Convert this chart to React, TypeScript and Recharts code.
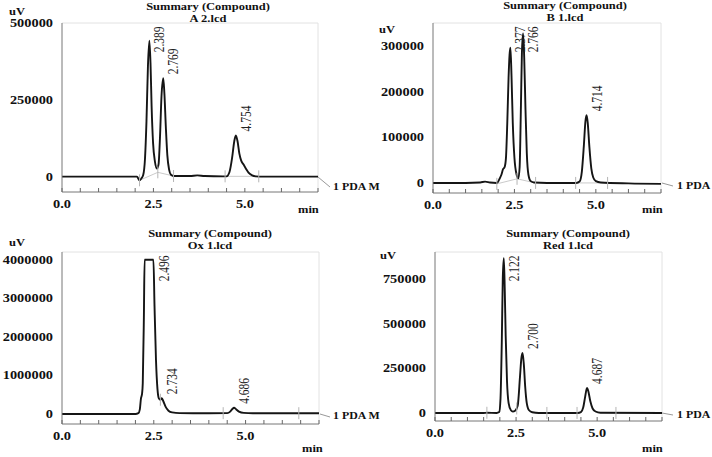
import React from 'react';
import { LineChart, Line, XAxis, YAxis, ReferenceDot, ReferenceLine } from 'recharts';

type Reading = [number, number];
type Gap = [number, number | null];

const SERIF = "'Liberation Serif', 'Times New Roman', serif";
// the scan is a little wider than tall, so all text gets stretched sideways
const STRETCH = 1.25;

const timeTicks = [0, 0.5, 1, 1.5, 2, 2.5, 3, 3.5, 4, 4.5, 5, 5.5, 6, 6.5, 7];
const labelledTimes = [0, 2.5, 5];

// ---- A 2.lcd
const traceA: Reading[] = [
  [0, 0], [1, 0], [2, 0], [2.05, 0], [2.12, -12000], [2.17, -6000], [2.22, 5000],
  [2.27, 60000], [2.31, 180000], [2.35, 360000], [2.389, 442000], [2.42, 370000],
  [2.45, 230000], [2.49, 110000], [2.54, 50000], [2.6, 26000], [2.64, 40000],
  [2.68, 130000], [2.72, 260000], [2.769, 320000], [2.8, 270000], [2.84, 160000],
  [2.88, 70000], [2.93, 22000], [2.98, 6000], [3.05, 2000], [3.5, 2000], [3.7, 4000],
  [3.9, 2000], [4.4, 1000], [4.5, 1000], [4.58, 15000], [4.65, 60000], [4.71, 115000],
  [4.754, 134000], [4.8, 115000], [4.85, 75000], [4.9, 52000], [4.96, 40000],
  [5.03, 26000], [5.1, 13000], [5.2, 4000], [5.3, 1000], [5.5, 0], [6.5, 0], [7, 0],
];
const peaksA: Reading[] = [[2.389, 442000], [2.769, 320000], [4.754, 134000]];
const cutsA: Reading[] = [[2.12, -12000], [2.62, 14000], [3.05, 2000], [4.46, 1000], [5.38, 1000]];
const integrationA: Gap[] = [[2.12, -12000], [2.62, 14000], [3.05, 2000], [3.3, null], [4.46, 1000], [5.38, 1000]];
const yTicksA = [0, 250000, 500000];

// ---- B 1.lcd
const traceB: Reading[] = [
  [0, 0], [1, 0], [1.45, 1000], [1.6, 3000], [1.75, 1000], [1.95, 0], [2, 3000],
  [2.05, 10000], [2.1, 18000], [2.15, 30000], [2.2, 35000], [2.24, 55000], [2.28, 130000],
  [2.32, 230000], [2.35, 280000], [2.377, 296000], [2.41, 235000], [2.45, 130000],
  [2.5, 55000], [2.56, 20000], [2.62, 10000], [2.66, 35000], [2.7, 170000], [2.73, 285000],
  [2.766, 327000], [2.8, 275000], [2.84, 160000], [2.88, 65000], [2.93, 18000], [3, 4000],
  [3.1, 1000], [3.5, 0], [4.4, 0], [4.5, 3000], [4.57, 25000], [4.63, 80000], [4.68, 135000],
  [4.714, 148000], [4.75, 132000], [4.8, 80000], [4.86, 32000], [4.92, 12000], [5, 4000],
  [5.15, 1000], [6, -1000], [7, -2000],
];
const peaksB: Reading[] = [[2.377, 296000], [2.766, 327000], [4.714, 148000]];
const cutsB: Reading[] = [[1.96, -2000], [2.58, 9000], [3.15, 0], [4.38, 0], [5.36, 0]];
const integrationB: Gap[] = [[1.96, -2000], [2.58, 9000], [3.15, 0], [3.4, null], [4.38, 0], [5.36, 0]];
const yTicksB = [0, 100000, 200000, 300000];

// ---- Ox 1.lcd
const traceOx: Reading[] = [
  [0, 0], [1, 0], [2, 0], [2.08, 20000], [2.12, 120000], [2.15, 400000], [2.18, 520000],
  [2.2, 800000], [2.23, 2500000], [2.25, 4000000], [2.49, 4000000], [2.52, 2800000],
  [2.56, 1400000], [2.6, 650000], [2.64, 400000], [2.68, 370000], [2.72, 410000],
  [2.76, 330000], [2.82, 190000], [2.9, 85000], [3, 40000], [3.2, 22000], [4, 20000],
  [4.5, 22000], [4.58, 60000], [4.64, 130000], [4.686, 160000], [4.74, 125000],
  [4.82, 60000], [4.95, 28000], [5.2, 20000], [7, 20000],
];
const peaksOx: Reading[] = [[2.496, 4000000], [2.734, 410000], [4.686, 160000]];
const cutsOx: Reading[] = [[2.68, 370000], [4.39, 21000], [6.45, 20000]];
const integrationOx: Gap[] = [];
const yTicksOx = [0, 1000000, 2000000, 3000000, 4000000];

// ---- Red 1.lcd
const traceRed: Reading[] = [
  [0, 0], [1.5, 0], [1.6, 1000], [1.9, 0], [1.98, 5000], [2.02, 80000], [2.06, 400000],
  [2.09, 750000], [2.122, 865000], [2.15, 700000], [2.18, 430000], [2.22, 180000],
  [2.27, 55000], [2.34, 15000], [2.4, 8000], [2.47, 12000], [2.55, 40000], [2.62, 200000],
  [2.66, 300000], [2.7, 335000], [2.74, 270000], [2.78, 150000], [2.83, 55000],
  [2.9, 15000], [3, 4000], [3.2, 0], [4.4, 0], [4.5, 5000], [4.57, 30000], [4.63, 90000],
  [4.687, 140000], [4.73, 120000], [4.79, 65000], [4.86, 25000], [4.95, 8000], [5.1, 1000],
  [7, 0],
];
const peaksRed: Reading[] = [[2.122, 865000], [2.7, 335000], [4.687, 140000]];
const cutsRed: Reading[] = [[1.6, 1000], [2.52, 25000], [3.45, 0], [4.38, 0], [5.58, 0]];
const integrationRed: Gap[] = [];
const yTicksRed = [0, 250000, 500000, 750000];

type PanelSpec = {
  left: number;
  top: number;
  width: number;
  height: number;
  yAxisWidth: number;
  marginTop: number;
  marginRight: number;
  xAxisHeight: number;
  yDomain: [number, number];
  yTicks: number[];
  trace: Reading[];
  peaks: Reading[];
  cuts: Reading[];
  integration: Gap[];
};

const panels: PanelSpec[] = [
  {
    left: 0, top: 0, width: 356, height: 222, yAxisWidth: 62, marginTop: 23, marginRight: 38,
    xAxisHeight: 30, yDomain: [-50000, 500000], yTicks: yTicksA,
    trace: traceA, peaks: peaksA, cuts: cutsA, integration: integrationA,
  },
  {
    left: 360, top: 0, width: 352, height: 222, yAxisWidth: 73, marginTop: 23, marginRight: 51,
    xAxisHeight: 29, yDomain: [-22000, 350000], yTicks: yTicksB,
    trace: traceB, peaks: peaksB, cuts: cutsB, integration: integrationB,
  },
  {
    left: 0, top: 228, width: 356, height: 229, yAxisWidth: 62, marginTop: 24, marginRight: 37,
    xAxisHeight: 33, yDomain: [-260000, 4200000], yTicks: yTicksOx,
    trace: traceOx, peaks: peaksOx, cuts: cutsOx, integration: integrationOx,
  },
  {
    left: 360, top: 228, width: 352, height: 229, yAxisWidth: 75, marginTop: 24, marginRight: 50,
    xAxisHeight: 36, yDomain: [-45000, 900000], yTicks: yTicksRed,
    trace: traceRed, peaks: peaksRed, cuts: cutsRed, integration: integrationRed,
  },
];

function Txt({ x, y, size, anchor = 'start', bold = true, children }: any) {
  return (
    <text
      transform={`translate(${x},${y}) scale(${STRETCH},1)`}
      fontSize={size}
      fontWeight={bold ? 700 : 400}
      fontFamily={SERIF}
      textAnchor={anchor}
      fill="#111"
    >
      {children}
    </text>
  );
}

function TimeTick({ x, y, payload }: any) {
  const v = payload.value as number;
  return (
    <g>
      <line x1={x} x2={x} y1={y} y2={y - 4} stroke="#666" strokeWidth={1} />
      {labelledTimes.includes(v) && (
        <Txt x={x} y={y + 16} size={11.5} anchor="middle">
          {v.toFixed(1)}
        </Txt>
      )}
    </g>
  );
}

function SignalTick({ x, y, payload }: any) {
  return (
    <Txt x={x} y={y + 4} size={11.5} anchor="end">
      {String(payload.value)}
    </Txt>
  );
}

function PeakLabel({ cx, cy, text, top }: any) {
  const len = 26;
  const start = cy - 4;
  const clamped = start - len < top + 3.5;
  const y = clamped ? top + 3.5 : start;
  return (
    <text
      transform={`translate(${cx + 15},${y}) scale(${STRETCH},1) rotate(-90)`}
      textAnchor={clamped ? 'end' : 'start'}
      fontSize={11.5}
      fontFamily={SERIF}
      fill="#222"
    >
      {text}
    </text>
  );
}

function CutMark({ cx, cy }: any) {
  return <line x1={cx} x2={cx} y1={cy - 6} y2={cy + 6} stroke="#b5b5b5" strokeWidth={1} />;
}

function Chromatogram({ spec }: { spec: PanelSpec }) {
  const data = spec.trace.map(([t, v]) => ({ t, v }));
  const base = spec.integration.map(([t, v]) => ({ t, v }));
  const top = spec.marginTop;
  return (
    <div style={{ position: 'absolute', left: spec.left, top: spec.top }}>
      <LineChart
        width={spec.width}
        height={spec.height}
        margin={{ top: spec.marginTop, right: spec.marginRight, bottom: 0, left: 0 }}
      >
        <XAxis
          type="number"
          dataKey="t"
          domain={[0, 7]}
          ticks={timeTicks}
          interval={0}
          allowDataOverflow
          height={spec.xAxisHeight}
          tickSize={0}
          tickMargin={0}
          stroke="#777"
          tick={(p: any) => <TimeTick {...p} />}
        />
        <YAxis
          type="number"
          domain={spec.yDomain}
          ticks={spec.yTicks}
          interval={0}
          allowDataOverflow
          width={spec.yAxisWidth}
          tickSize={0}
          tickMargin={9}
          stroke="#777"
          tick={(p: any) => <SignalTick {...p} />}
        />
        <ReferenceLine y={spec.yDomain[1]} stroke="#e2e2e2" />
        <ReferenceLine x={7} stroke="#e2e2e2" />
        {base.length > 0 && (
          <Line
            data={base}
            dataKey="v"
            stroke="#bdbdbd"
            strokeWidth={0.8}
            dot={false}
            connectNulls={false}
            isAnimationActive={false}
          />
        )}
        <Line
          data={data}
          dataKey="v"
          type="monotone"
          stroke="#151515"
          strokeWidth={1.9}
          dot={false}
          isAnimationActive={false}
        />
        {spec.cuts.map(([t, v]) => (
          <ReferenceDot key={`c${t}`} x={t} y={v} r={0} shape={(p: any) => <CutMark cx={p.cx} cy={p.cy} />} />
        ))}
        {spec.peaks.map(([t, v]) => (
          <ReferenceDot
            key={`p${t}`}
            x={t}
            y={v}
            r={0}
            shape={(p: any) => <PeakLabel cx={p.cx} cy={p.cy} text={t.toFixed(3)} top={top} />}
          />
        ))}
      </LineChart>
    </div>
  );
}

const titles = ['A 2.lcd', 'B 1.lcd', 'Ox 1.lcd', 'Red 1.lcd'];

function Annotations() {
  return (
    <svg width={712} height={457} style={{ position: 'absolute', left: 0, top: 0, pointerEvents: 'none' }}>
      {/* A */}
      <Txt x={208} y={9.5} size={10} anchor="middle">Summary (Compound)</Txt>
      <Txt x={208} y={21.5} size={10} anchor="middle">{titles[0]}</Txt>
      <Txt x={9} y={14.5} size={10}>uV</Txt>
      <Txt x={298} y={213} size={10}>min</Txt>
      <line x1={318} y1={177} x2={330} y2={187} stroke="#999" />
      <Txt x={333} y={190} size={9.5}>1 PDA M</Txt>
      {/* B */}
      <Txt x={565} y={8.5} size={10} anchor="middle">Summary (Compound)</Txt>
      <Txt x={565} y={20.5} size={10} anchor="middle">{titles[1]}</Txt>
      <Txt x={379} y={33} size={10}>uV</Txt>
      <Txt x={642} y={213} size={10}>min</Txt>
      <line x1={662} y1={183} x2={673} y2={186} stroke="#999" />
      <Txt x={677} y={189} size={9.5}>1 PDA</Txt>
      {/* Ox */}
      <Txt x={210} y={237} size={10} anchor="middle">Summary (Compound)</Txt>
      <Txt x={210} y={248.5} size={10} anchor="middle">{titles[2]}</Txt>
      <Txt x={9} y={246} size={10}>uV</Txt>
      <Txt x={302} y={452} size={10}>min</Txt>
      <line x1={320} y1={414} x2={330} y2={417} stroke="#999" />
      <Txt x={333} y={419} size={9.5}>1 PDA M</Txt>
      {/* Red */}
      <Txt x={568} y={237} size={10} anchor="middle">Summary (Compound)</Txt>
      <Txt x={568} y={248.5} size={10} anchor="middle">{titles[3]}</Txt>
      <Txt x={380} y={259} size={10}>uV</Txt>
      <Txt x={642} y={452} size={10}>min</Txt>
      <line x1={662} y1={413} x2={673} y2={415} stroke="#999" />
      <Txt x={677} y={418} size={9.5}>1 PDA</Txt>
    </svg>
  );
}

export default function App() {
  return (
    <div
      style={{
        position: 'absolute',
        left: 0,
        top: 0,
        width: 712,
        height: 457,
        background: '#fff',
        overflow: 'hidden',
      }}
    >
      {panels.map((spec, i) => (
        <Chromatogram key={titles[i]} spec={spec} />
      ))}
      <Annotations />
    </div>
  );
}
